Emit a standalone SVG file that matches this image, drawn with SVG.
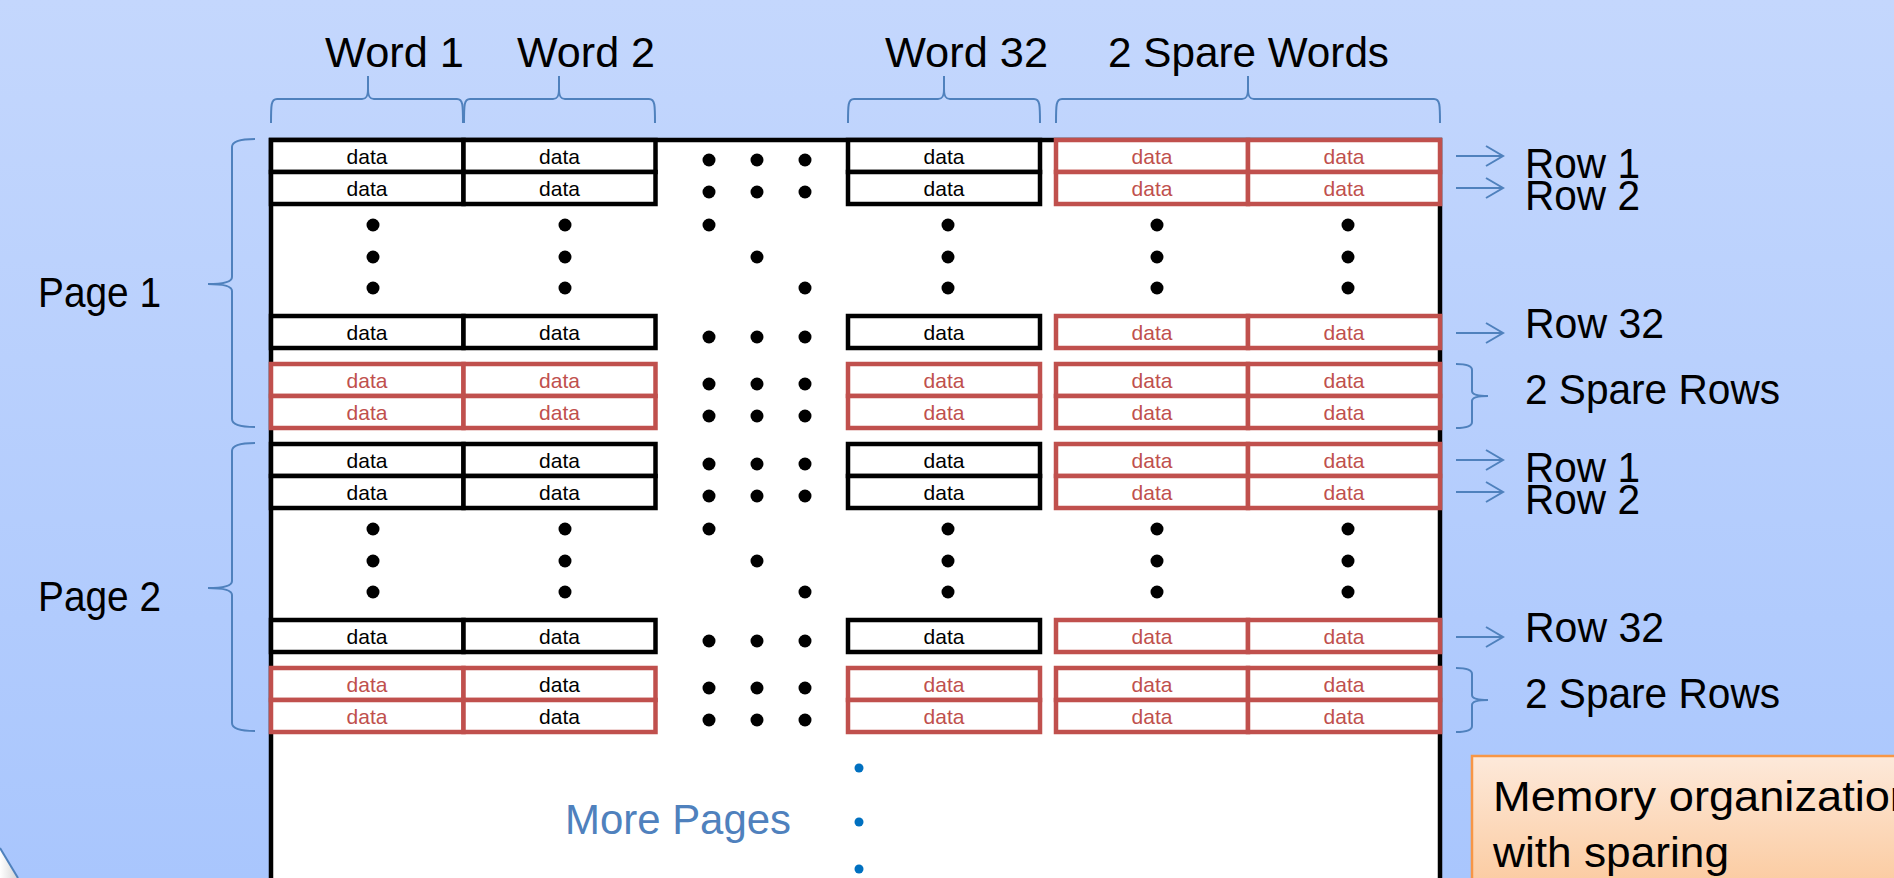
<svg xmlns="http://www.w3.org/2000/svg" width="1894" height="878" viewBox="0 0 1894 878">
<defs>
<linearGradient id="bg" x1="0" y1="0" x2="0" y2="1">
<stop offset="0" stop-color="#c4d7fd"/>
<stop offset="1" stop-color="#a9c6fd"/>
</linearGradient>
<linearGradient id="note" x1="0" y1="0" x2="0" y2="1">
<stop offset="0" stop-color="#fde9da"/>
<stop offset="1" stop-color="#fbc493"/>
</linearGradient>
<linearGradient id="curl" x1="0" y1="0" x2="1" y2="0">
<stop offset="0" stop-color="#ffffff"/>
<stop offset="1" stop-color="#d4d4d4"/>
</linearGradient>
<style>
.lbl{font-family:"Liberation Sans",Arial,sans-serif;font-size:42px;fill:#000}
.dt{font-family:"Liberation Sans",Arial,sans-serif;font-size:21px;text-anchor:middle}
.tb{fill:#000}
.tr{fill:#c0504d}
.cb{fill:#fff;stroke:#000;stroke-width:4.5}
.cr{fill:#fff;stroke:#c0504d;stroke-width:4.5}
.br{fill:none;stroke:#4f81bd;stroke-width:2}
.dot{fill:#000}
.bdot{fill:#0070c0}
</style>
</defs>
<rect x="0" y="0" width="1894" height="878" fill="url(#bg)"/>
<polygon points="0,848 18,878 0,878" fill="url(#curl)"/>
<line x1="0" y1="848" x2="18" y2="878" stroke="#4f81bd" stroke-width="2"/>

<g id="memory-frame">
<rect x="271" y="140" width="1169" height="800" fill="#fff" stroke="#000" stroke-width="4.5"/>
</g>

<g id="page1">
<g id="p1-row1">
<rect class="cb" x="271" y="140" width="192.5" height="32"/><text class="dt tb" x="367" y="164">data</text>
<rect class="cb" x="463.5" y="140" width="192" height="32"/><text class="dt tb" x="559.5" y="164">data</text>
<rect class="cb" x="848" y="140" width="192" height="32"/><text class="dt tb" x="944" y="164">data</text>
<rect class="cr" x="1056" y="140" width="192" height="32"/><text class="dt tr" x="1152" y="164">data</text>
<rect class="cr" x="1248" y="140" width="192" height="32"/><text class="dt tr" x="1344" y="164">data</text>
</g>
<g id="p1-row2">
<rect class="cb" x="271" y="172" width="192.5" height="32"/><text class="dt tb" x="367" y="196">data</text>
<rect class="cb" x="463.5" y="172" width="192" height="32"/><text class="dt tb" x="559.5" y="196">data</text>
<rect class="cb" x="848" y="172" width="192" height="32"/><text class="dt tb" x="944" y="196">data</text>
<rect class="cr" x="1056" y="172" width="192" height="32"/><text class="dt tr" x="1152" y="196">data</text>
<rect class="cr" x="1248" y="172" width="192" height="32"/><text class="dt tr" x="1344" y="196">data</text>
</g>
<g id="p1-row32">
<rect class="cb" x="271" y="316" width="192.5" height="32"/><text class="dt tb" x="367" y="340">data</text>
<rect class="cb" x="463.5" y="316" width="192" height="32"/><text class="dt tb" x="559.5" y="340">data</text>
<rect class="cb" x="848" y="316" width="192" height="32"/><text class="dt tb" x="944" y="340">data</text>
<rect class="cr" x="1056" y="316" width="192" height="32"/><text class="dt tr" x="1152" y="340">data</text>
<rect class="cr" x="1248" y="316" width="192" height="32"/><text class="dt tr" x="1344" y="340">data</text>
</g>
<g id="p1-spare1">
<rect class="cr" x="271" y="364" width="192.5" height="32"/><text class="dt tr" x="367" y="388">data</text>
<rect class="cr" x="463.5" y="364" width="192" height="32"/><text class="dt tr" x="559.5" y="388">data</text>
<rect class="cr" x="848" y="364" width="192" height="32"/><text class="dt tr" x="944" y="388">data</text>
<rect class="cr" x="1056" y="364" width="192" height="32"/><text class="dt tr" x="1152" y="388">data</text>
<rect class="cr" x="1248" y="364" width="192" height="32"/><text class="dt tr" x="1344" y="388">data</text>
</g>
<g id="p1-spare2">
<rect class="cr" x="271" y="396" width="192.5" height="32"/><text class="dt tr" x="367" y="420">data</text>
<rect class="cr" x="463.5" y="396" width="192" height="32"/><text class="dt tr" x="559.5" y="420">data</text>
<rect class="cr" x="848" y="396" width="192" height="32"/><text class="dt tr" x="944" y="420">data</text>
<rect class="cr" x="1056" y="396" width="192" height="32"/><text class="dt tr" x="1152" y="420">data</text>
<rect class="cr" x="1248" y="396" width="192" height="32"/><text class="dt tr" x="1344" y="420">data</text>
</g>
<g id="p1-dots">
<circle class="dot" cx="709" cy="160" r="6.5"/><circle class="dot" cx="757" cy="160" r="6.5"/><circle class="dot" cx="805" cy="160" r="6.5"/>
<circle class="dot" cx="709" cy="192" r="6.5"/><circle class="dot" cx="757" cy="192" r="6.5"/><circle class="dot" cx="805" cy="192" r="6.5"/>
<circle class="dot" cx="709" cy="225" r="6.5"/><circle class="dot" cx="757" cy="257" r="6.5"/><circle class="dot" cx="805" cy="288" r="6.5"/>
<circle class="dot" cx="709" cy="337" r="6.5"/><circle class="dot" cx="757" cy="337" r="6.5"/><circle class="dot" cx="805" cy="337" r="6.5"/>
<circle class="dot" cx="709" cy="384" r="6.5"/><circle class="dot" cx="757" cy="384" r="6.5"/><circle class="dot" cx="805" cy="384" r="6.5"/>
<circle class="dot" cx="709" cy="416" r="6.5"/><circle class="dot" cx="757" cy="416" r="6.5"/><circle class="dot" cx="805" cy="416" r="6.5"/>
<circle class="dot" cx="373" cy="225" r="6.5"/><circle class="dot" cx="373" cy="257" r="6.5"/><circle class="dot" cx="373" cy="288" r="6.5"/>
<circle class="dot" cx="565" cy="225" r="6.5"/><circle class="dot" cx="565" cy="257" r="6.5"/><circle class="dot" cx="565" cy="288" r="6.5"/>
<circle class="dot" cx="948" cy="225" r="6.5"/><circle class="dot" cx="948" cy="257" r="6.5"/><circle class="dot" cx="948" cy="288" r="6.5"/>
<circle class="dot" cx="1157" cy="225" r="6.5"/><circle class="dot" cx="1157" cy="257" r="6.5"/><circle class="dot" cx="1157" cy="288" r="6.5"/>
<circle class="dot" cx="1348" cy="225" r="6.5"/><circle class="dot" cx="1348" cy="257" r="6.5"/><circle class="dot" cx="1348" cy="288" r="6.5"/>
</g>
</g>

<g id="page2" transform="translate(0,304)">
<g id="p2-row1">
<rect class="cb" x="271" y="140" width="192.5" height="32"/><text class="dt tb" x="367" y="164">data</text>
<rect class="cb" x="463.5" y="140" width="192" height="32"/><text class="dt tb" x="559.5" y="164">data</text>
<rect class="cb" x="848" y="140" width="192" height="32"/><text class="dt tb" x="944" y="164">data</text>
<rect class="cr" x="1056" y="140" width="192" height="32"/><text class="dt tr" x="1152" y="164">data</text>
<rect class="cr" x="1248" y="140" width="192" height="32"/><text class="dt tr" x="1344" y="164">data</text>
</g>
<g id="p2-row2">
<rect class="cb" x="271" y="172" width="192.5" height="32"/><text class="dt tb" x="367" y="196">data</text>
<rect class="cb" x="463.5" y="172" width="192" height="32"/><text class="dt tb" x="559.5" y="196">data</text>
<rect class="cb" x="848" y="172" width="192" height="32"/><text class="dt tb" x="944" y="196">data</text>
<rect class="cr" x="1056" y="172" width="192" height="32"/><text class="dt tr" x="1152" y="196">data</text>
<rect class="cr" x="1248" y="172" width="192" height="32"/><text class="dt tr" x="1344" y="196">data</text>
</g>
<g id="p2-row32">
<rect class="cb" x="271" y="316" width="192.5" height="32"/><text class="dt tb" x="367" y="340">data</text>
<rect class="cb" x="463.5" y="316" width="192" height="32"/><text class="dt tb" x="559.5" y="340">data</text>
<rect class="cb" x="848" y="316" width="192" height="32"/><text class="dt tb" x="944" y="340">data</text>
<rect class="cr" x="1056" y="316" width="192" height="32"/><text class="dt tr" x="1152" y="340">data</text>
<rect class="cr" x="1248" y="316" width="192" height="32"/><text class="dt tr" x="1344" y="340">data</text>
</g>
<g id="p2-spare1">
<rect class="cr" x="271" y="364" width="192.5" height="32"/><text class="dt tr" x="367" y="388">data</text>
<rect class="cr" x="463.5" y="364" width="192" height="32"/><text class="dt tb" x="559.5" y="388">data</text>
<rect class="cr" x="848" y="364" width="192" height="32"/><text class="dt tr" x="944" y="388">data</text>
<rect class="cr" x="1056" y="364" width="192" height="32"/><text class="dt tr" x="1152" y="388">data</text>
<rect class="cr" x="1248" y="364" width="192" height="32"/><text class="dt tr" x="1344" y="388">data</text>
</g>
<g id="p2-spare2">
<rect class="cr" x="271" y="396" width="192.5" height="32"/><text class="dt tr" x="367" y="420">data</text>
<rect class="cr" x="463.5" y="396" width="192" height="32"/><text class="dt tb" x="559.5" y="420">data</text>
<rect class="cr" x="848" y="396" width="192" height="32"/><text class="dt tr" x="944" y="420">data</text>
<rect class="cr" x="1056" y="396" width="192" height="32"/><text class="dt tr" x="1152" y="420">data</text>
<rect class="cr" x="1248" y="396" width="192" height="32"/><text class="dt tr" x="1344" y="420">data</text>
</g>
<g id="p2-dots">
<circle class="dot" cx="709" cy="160" r="6.5"/><circle class="dot" cx="757" cy="160" r="6.5"/><circle class="dot" cx="805" cy="160" r="6.5"/>
<circle class="dot" cx="709" cy="192" r="6.5"/><circle class="dot" cx="757" cy="192" r="6.5"/><circle class="dot" cx="805" cy="192" r="6.5"/>
<circle class="dot" cx="709" cy="225" r="6.5"/><circle class="dot" cx="757" cy="257" r="6.5"/><circle class="dot" cx="805" cy="288" r="6.5"/>
<circle class="dot" cx="709" cy="337" r="6.5"/><circle class="dot" cx="757" cy="337" r="6.5"/><circle class="dot" cx="805" cy="337" r="6.5"/>
<circle class="dot" cx="709" cy="384" r="6.5"/><circle class="dot" cx="757" cy="384" r="6.5"/><circle class="dot" cx="805" cy="384" r="6.5"/>
<circle class="dot" cx="709" cy="416" r="6.5"/><circle class="dot" cx="757" cy="416" r="6.5"/><circle class="dot" cx="805" cy="416" r="6.5"/>
<circle class="dot" cx="373" cy="225" r="6.5"/><circle class="dot" cx="373" cy="257" r="6.5"/><circle class="dot" cx="373" cy="288" r="6.5"/>
<circle class="dot" cx="565" cy="225" r="6.5"/><circle class="dot" cx="565" cy="257" r="6.5"/><circle class="dot" cx="565" cy="288" r="6.5"/>
<circle class="dot" cx="948" cy="225" r="6.5"/><circle class="dot" cx="948" cy="257" r="6.5"/><circle class="dot" cx="948" cy="288" r="6.5"/>
<circle class="dot" cx="1157" cy="225" r="6.5"/><circle class="dot" cx="1157" cy="257" r="6.5"/><circle class="dot" cx="1157" cy="288" r="6.5"/>
<circle class="dot" cx="1348" cy="225" r="6.5"/><circle class="dot" cx="1348" cy="257" r="6.5"/><circle class="dot" cx="1348" cy="288" r="6.5"/>
</g>
</g>

<g id="more-pages">
<text class="lbl" x="565" y="834" textLength="226" lengthAdjust="spacingAndGlyphs" style="fill:#4f81bd">More Pages</text>
<circle class="bdot" cx="859" cy="768" r="4.5"/>
<circle class="bdot" cx="859" cy="822" r="4.5"/>
<circle class="bdot" cx="859" cy="869" r="4.5"/>
</g>

<g id="column-labels">
<text class="lbl" x="325" y="67" textLength="139" lengthAdjust="spacingAndGlyphs">Word 1</text>
<text class="lbl" x="517" y="67" textLength="138" lengthAdjust="spacingAndGlyphs">Word 2</text>
<text class="lbl" x="885" y="67" textLength="163" lengthAdjust="spacingAndGlyphs">Word 32</text>
<text class="lbl" x="1108" y="67" textLength="281" lengthAdjust="spacingAndGlyphs">2 Spare Words</text>
</g>

<g id="page-labels">
<text class="lbl" x="38" y="307" textLength="123" lengthAdjust="spacingAndGlyphs">Page 1</text>
<text class="lbl" x="38" y="611" textLength="123" lengthAdjust="spacingAndGlyphs">Page 2</text>
</g>

<g id="row-labels">
<text class="lbl" x="1525" y="178" textLength="115" lengthAdjust="spacingAndGlyphs">Row 1</text>
<text class="lbl" x="1525" y="210" textLength="115" lengthAdjust="spacingAndGlyphs">Row 2</text>
<text class="lbl" x="1525" y="338" textLength="139" lengthAdjust="spacingAndGlyphs">Row 32</text>
<text class="lbl" x="1525" y="404" textLength="255" lengthAdjust="spacingAndGlyphs">2 Spare Rows</text>
<text class="lbl" x="1525" y="482" textLength="115" lengthAdjust="spacingAndGlyphs">Row 1</text>
<text class="lbl" x="1525" y="514" textLength="115" lengthAdjust="spacingAndGlyphs">Row 2</text>
<text class="lbl" x="1525" y="642" textLength="139" lengthAdjust="spacingAndGlyphs">Row 32</text>
<text class="lbl" x="1525" y="708" textLength="255" lengthAdjust="spacingAndGlyphs">2 Spare Rows</text>
</g>

<g id="connectors">
<path class="br" d="M271 123 C271 105 271 99 277 99 L362 99 C366 99 368 97 368 89 L368 76 M368 89 C368 97 370 99 374 99 L457 99 C463 99 463 105 463 123"/>
<path class="br" d="M464 123 C464 105 464 99 470 99 L553 99 C557 99 559 97 559 89 L559 76 M559 89 C559 97 561 99 565 99 L649 99 C655 99 655 105 655 123"/>
<path class="br" d="M848 123 C848 105 848 99 854 99 L938 99 C942 99 944 97 944 89 L944 76 M944 89 C944 97 946 99 950 99 L1034 99 C1040 99 1040 105 1040 123"/>
<path class="br" d="M1056 123 C1056 105 1056 99 1062 99 L1242 99 C1246 99 1248 97 1248 89 L1248 76 M1248 89 C1248 97 1250 99 1254 99 L1434 99 C1440 99 1440 105 1440 123"/>
<path class="br" d="M255 139 Q232 139 232 147 L232 277 Q232 284 208 284 Q232 284 232 291 L232 419 Q232 427 255 427"/>
<path class="br" d="M255 443 Q232 443 232 451 L232 581 Q232 588 208 588 Q232 588 232 595 L232 723 Q232 731 255 731"/>
<path class="br" d="M1456 364 Q1472 364 1472 370 L1472 391 Q1472 396 1488 396 Q1472 396 1472 401 L1472 422 Q1472 428 1456 428"/>
<path class="br" d="M1456 668 Q1472 668 1472 674 L1472 695 Q1472 700 1488 700 Q1472 700 1472 705 L1472 726 Q1472 732 1456 732"/>
<path class="br" d="M1456 156 L1503 156 M1486 146 L1503 156 L1486 166"/>
<path class="br" d="M1456 188 L1503 188 M1486 178 L1503 188 L1486 198"/>
<path class="br" d="M1456 333 L1503 333 M1486 323 L1503 333 L1486 343"/>
<path class="br" d="M1456 460 L1503 460 M1486 450 L1503 460 L1486 470"/>
<path class="br" d="M1456 492 L1503 492 M1486 482 L1503 492 L1486 502"/>
<path class="br" d="M1456 637 L1503 637 M1486 627 L1503 637 L1486 647"/>
</g>

<g id="note">
<rect x="1472" y="756" width="460" height="160" fill="url(#note)" stroke="#f79646" stroke-width="2.5"/>
<text class="lbl" x="1493" y="811" textLength="422" lengthAdjust="spacingAndGlyphs">Memory organization</text>
<text class="lbl" x="1493" y="867" textLength="236" lengthAdjust="spacingAndGlyphs">with sparing</text>
</g>
</svg>
